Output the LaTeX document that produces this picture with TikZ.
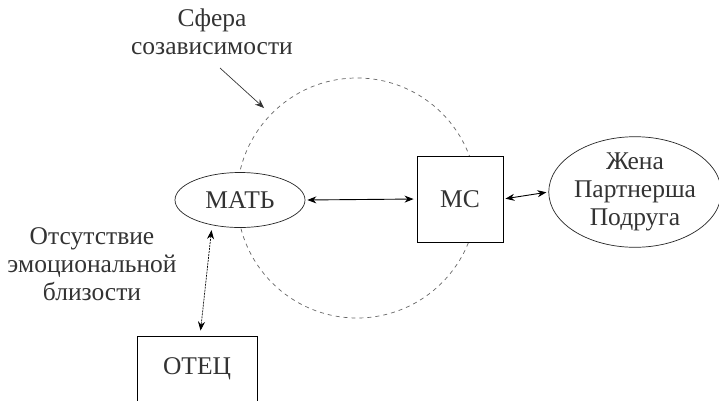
\documentclass[tikz,border=0pt]{standalone}
\usepackage{fontspec}
\setmainfont{Liberation Serif}
\usetikzlibrary{shapes.geometric,arrows.meta,calc}
\tikzset{
  lbl/.style={text=black!80, font=\fontsize{25.5}{28}\selectfont, align=center, inner sep=0pt},
  ovalbox/.style={ellipse, draw=black!85, fill=white, line width=0.7pt, inner sep=0pt},
  sqbox/.style={rectangle, draw=black, fill=white, line width=0.9pt, inner sep=0pt},
  tip/.style={Stealth[length=9pt,width=7pt]},
  link/.style={draw=black, line width=0.9pt, {Stealth[length=9pt,width=7pt]}-{Stealth[length=9pt,width=7pt]}},
  pointer/.style={draw=black!80, line width=0.7pt, -{Stealth[length=9pt,width=7pt]}},
  sphere/.style={draw=black!60, line width=0.7pt, dash pattern=on 4pt off 4pt}
}
\begin{document}
\begin{tikzpicture}[x=1pt,y=-1pt]
\useasboundingbox (0,0) rectangle (719,400);
% sphere of codependency
\node[circle, sphere, minimum size=240pt, inner sep=0pt] (sph) at (357,198) {};
\node[lbl] (sfera) at (212,32) {Сфера\\созависимости};
\coordinate (pstart) at (220,68);
\coordinate (pend) at (264,108);
\draw[pointer] (pstart) -- (pend);
% nodes
\node[ovalbox, lbl, draw=black!85, minimum width=130pt, minimum height=55pt] (mat) at (240,200) {МАТЬ};
\node[sqbox, lbl, draw=black, minimum width=86pt, minimum height=86pt] (ms) at (460,199) {МС};
\node[ovalbox, lbl, draw=black!85, minimum width=160pt, minimum height=98pt] (zh) at (635,192) {Жена\\Партнерша\\Подруга};
\node[sqbox, lbl, draw=black, minimum width=120pt, minimum height=66pt] (otec) at (197,369) {ОТЕЦ};
\node[lbl] (absence) at (92,264) {Отсутствие\\эмоциональной\\близости};
% connectors
\draw[link, shorten <=2pt, shorten >=3pt] (mat.east) -- (ms.west);
\draw[link, shorten <=2pt, shorten >=2pt] (ms.east) -- (zh.west);
\coordinate (otectop) at ($(otec.north)+(3,0)$);
\draw[link, line width=0.7pt, dash pattern=on 2pt off 1pt, shorten <=5pt, shorten >=5pt] (mat.222) -- (otectop);
\end{tikzpicture}
\end{document}
